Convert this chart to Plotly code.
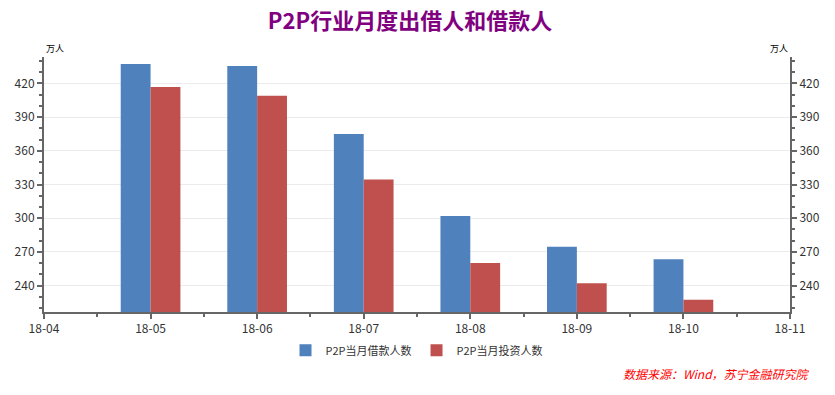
import plotly.graph_objects as go

months = ["18-04", "18-05", "18-06", "18-07", "18-08", "18-09", "18-10", "18-11"]
bar_months = ["18-05", "18-06", "18-07", "18-08", "18-09", "18-10"]
borrowers = [437.2, 435.4, 375.0, 302.0, 274.5, 263.5]
investors = [416.7, 409.0, 334.5, 260.2, 242.0, 227.5]
y_ticks = [240, 270, 300, 330, 360, 390, 420]

pos = {m: i for i, m in enumerate(months)}
xb = [pos[m] for m in bar_months]

fig = go.Figure()
fig.add_trace(go.Bar(x=xb, y=borrowers, name="P2P当月借款人数", marker_color="#4F81BD",
                     marker_line_width=0, offsetgroup="a"))
fig.add_trace(go.Bar(x=xb, y=investors, name="P2P当月投资人数", marker_color="#C0504D",
                     marker_line_width=0, offsetgroup="b"))
fig.add_trace(go.Scatter(x=xb, y=investors, yaxis="y2", mode="markers",
                         marker=dict(opacity=0), showlegend=False, hoverinfo="skip"))

yr = [216.5, 443.5]
font_base = "Microsoft YaHei, Noto Sans CJK SC, sans-serif"
axis_common = dict(
    range=yr, tickvals=y_ticks, ticks="outside", ticklen=5, tickwidth=2, tickcolor="#666",
    showline=True, linecolor="#666", linewidth=2, automargin=False,
    tickfont=dict(size=12, color="#333", family=font_base),
    minor=dict(dtick=10, tick0=0, ticks="outside", ticklen=3, tickwidth=2, tickcolor="#666", showgrid=False),
    zeroline=False,
)

fig.update_layout(
    width=835, height=395,
    margin=dict(l=44, r=45, t=57, b=83),
    paper_bgcolor="white", plot_bgcolor="white",
    barmode="group", bargap=0.44, bargroupgap=0,
    font=dict(family=font_base, color="#333"),
    title=dict(text="<b>P2P行业月度出借人和借款人</b>", xref="paper", x=0.4906, xanchor="center",
               y=1 - 21 / 395, yanchor="middle",
               font=dict(size=22, color="#800080", family=font_base)),
    xaxis=dict(range=[0, 7], tickvals=list(range(8)), ticktext=months, automargin=False,
               ticks="outside", ticklen=5, tickwidth=2, tickcolor="#666",
               showline=True, linecolor="#666", linewidth=2, showgrid=False, zeroline=False,
               tickfont=dict(size=12, color="#333", family=font_base),
               minor=dict(dtick=0.5, tick0=0, ticks="outside", ticklen=3, tickwidth=2, tickcolor="#666")),
    yaxis=dict(side="left", showgrid=True, gridcolor="#ebebeb", gridwidth=1, **axis_common),
    yaxis2=dict(side="right", overlaying="y", showgrid=False, **axis_common),
    legend=dict(orientation="h", x=0.5, xanchor="center", y=-0.15, yanchor="middle",
                font=dict(size=11, color="#333", family=font_base), itemwidth=30,
                traceorder="normal"),
    showlegend=True,
)

fig.add_annotation(text="万人", xref="paper", yref="paper", x=0, y=1.0, xanchor="left",
                   yanchor="bottom", showarrow=False, font=dict(size=9, color="#000", family=font_base))
fig.add_annotation(text="万人", xref="paper", yref="paper", x=1, y=1.0, xanchor="right",
                   yanchor="bottom", showarrow=False, font=dict(size=9, color="#000", family=font_base))
fig.add_annotation(text="<i>数据来源：Wind，苏宁金融研究院</i>", xref="paper", yref="paper",
                   x=1.029, y=-0.241, xanchor="right", yanchor="middle", showarrow=False,
                   font=dict(size=12, color="#FF0000", family=font_base))

fig.write_html("out.html", config={"displayModeBar": False})

with open("out.html", "r", encoding="utf-8") as f:
    html = f.read()
html = html.replace("<body>", '<body style="margin:0;padding:0;">', 1)
with open("out.html", "w", encoding="utf-8") as f:
    f.write(html)
